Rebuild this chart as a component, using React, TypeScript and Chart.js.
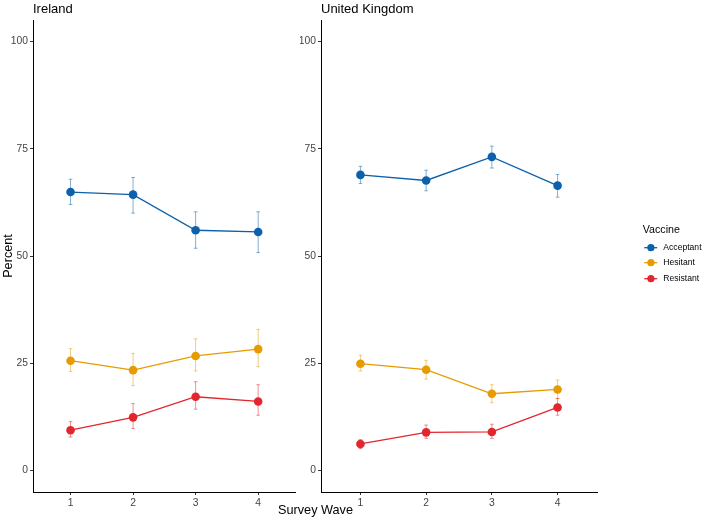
import React, { useEffect, useRef } from "react";
import { Chart, registerables } from "chart.js";

Chart.register(...registerables);

const FONT = "'Liberation Sans', Arial, Helvetica, sans-serif";

const waves = [1, 2, 3, 4];
const yTicks = [0, 25, 50, 75, 100];
const seriesNames = ["Acceptant", "Hesitant", "Resistant"];
const seriesColors = ["#0C60AC", "#E69B00", "#E2262D"];
const errColors = ["rgba(12,96,172,0.5)", "rgba(230,155,0,0.5)", "rgba(226,38,45,0.5)"];

// Ireland
const ieAcceptant = [64.9, 64.3, 56.0, 55.6];
const ieAcceptantLo = [62.0, 60.0, 51.8, 50.8];
const ieAcceptantHi = [67.9, 68.3, 60.3, 60.3];
const ieHesitant = [25.6, 23.4, 26.7, 28.3];
const ieHesitantLo = [23.1, 19.8, 23.2, 24.2];
const ieHesitantHi = [28.4, 27.3, 30.7, 32.9];
const ieResistant = [9.4, 12.4, 17.2, 16.1];
const ieResistantLo = [7.8, 9.8, 14.3, 12.9];
const ieResistantHi = [11.4, 15.6, 20.7, 20.0];

// United Kingdom
const ukAcceptant = [68.9, 67.6, 73.1, 66.4];
const ukAcceptantLo = [66.9, 65.2, 70.5, 63.7];
const ukAcceptantHi = [70.9, 70.0, 75.6, 69.0];
const ukHesitant = [24.9, 23.5, 17.9, 18.9];
const ukHesitantLo = [23.2, 21.3, 15.8, 16.8];
const ukHesitantHi = [26.9, 25.7, 20.0, 21.1];
const ukResistant = [6.2, 8.9, 9.0, 14.7];
const ukResistantLo = [5.1, 7.5, 7.5, 12.9];
const ukResistantHi = [7.2, 10.6, 10.8, 16.8];

function makeDatasets(vals: number[][], lo: number[][], hi: number[][]) {
  return vals.map((v, i) => ({
    label: seriesNames[i],
    data: waves.map((w, j) => ({ x: w, y: v[j] })),
    errLo: lo[i],
    errHi: hi[i],
    errColor: errColors[i],
    borderColor: seriesColors[i],
    backgroundColor: seriesColors[i],
    pointBackgroundColor: seriesColors[i],
    pointBorderWidth: 0,
    pointRadius: 4.3,
    borderWidth: 1.3,
    tension: 0,
  }));
}

const errorBarPlugin = {
  id: "errbars",
  beforeDatasetsDraw(chart: any) {
    const { ctx } = chart;
    const xs = chart.scales.x;
    const ys = chart.scales.y;
    ctx.save();
    chart.data.datasets.forEach((ds: any) => {
      ctx.strokeStyle = ds.errColor;
      ctx.lineWidth = 1;
      ds.data.forEach((p: any, j: number) => {
        const px = xs.getPixelForValue(p.x);
        const y1 = ys.getPixelForValue(ds.errLo[j]);
        const y2 = ys.getPixelForValue(ds.errHi[j]);
        ctx.beginPath();
        ctx.moveTo(px, y1);
        ctx.lineTo(px, y2);
        ctx.moveTo(px - 1.8, y1);
        ctx.lineTo(px + 1.8, y1);
        ctx.moveTo(px - 1.8, y2);
        ctx.lineTo(px + 1.8, y2);
        ctx.stroke();
      });
    });
    ctx.restore();
  },
};

const yTitlePlugin = {
  id: "yTitle",
  afterDraw(chart: any) {
    const opt = chart.options.plugins.yTitle;
    if (!opt || !opt.text) return;
    const { ctx, chartArea } = chart;
    ctx.save();
    ctx.translate(8.5, (chartArea.top + chartArea.bottom) / 2);
    ctx.rotate(-Math.PI / 2);
    ctx.textAlign = "center";
    ctx.textBaseline = "middle";
    ctx.fillStyle = "#000";
    ctx.font = `12.7px ${FONT}`;
    ctx.fillText(opt.text, 0, 0);
    ctx.restore();
  },
};

const legendPlugin = {
  id: "ggLegend",
  afterDraw(chart: any) {
    if (!chart.options.plugins.ggLegend || !chart.options.plugins.ggLegend.show) return;
    const { ctx, chartArea } = chart;
    const x0 = chartArea.right + 45.7;
    const cy = (chartArea.top + chartArea.bottom) / 2;
    ctx.save();
    ctx.textBaseline = "middle";
    ctx.textAlign = "left";
    ctx.fillStyle = "#000";
    ctx.font = `10.7px ${FONT}`;
    ctx.fillText("Vaccine", x0, cy - 26);
    const offs = [-8.3, 6.7, 22.7];
    chart.data.datasets.forEach((ds: any, i: number) => {
      const y = cy + offs[i];
      ctx.strokeStyle = ds.borderColor;
      ctx.lineWidth = 1.3;
      ctx.beginPath();
      ctx.moveTo(x0 + 1.5, y);
      ctx.lineTo(x0 + 14.5, y);
      ctx.stroke();
      ctx.fillStyle = ds.borderColor;
      ctx.beginPath();
      ctx.arc(x0 + 8.2, y, 3.6, 0, Math.PI * 2);
      ctx.fill();
      ctx.fillStyle = "#000";
      ctx.font = `8.6px ${FONT}`;
      ctx.fillText(ds.label, x0 + 20.6, y);
    });
    ctx.restore();
  },
};

function makeConfig(title: string, datasets: any[], yWidth: number, padRight: number, showLegend: boolean, yTitle: string): any {
  return {
    type: "line",
    data: { datasets },
    plugins: [errorBarPlugin, legendPlugin, yTitlePlugin],
    options: {
      animation: false,
      responsive: false,
      layout: { padding: { left: 0, right: padRight, top: 0, bottom: 0 } },
      plugins: {
        legend: { display: false },
        tooltip: { enabled: false },
        ggLegend: { show: showLegend },
        yTitle: { text: yTitle },
        title: {
          display: true,
          text: title,
          align: "start",
          fullSize: false,
          color: "#000",
          font: { family: FONT, size: 13, weight: "normal", lineHeight: 1.2 },
          padding: { top: 1.8, bottom: 2.6 },
        },
      },
      scales: {
        x: {
          type: "linear",
          min: 0.4,
          max: 4.6,
          afterBuildTicks: (s: any) => {
            s.ticks = waves.map((v) => ({ value: v }));
          },
          afterFit: (s: any) => {
            s.height = 29;
          },
          grid: { display: true, drawOnChartArea: false, drawTicks: true, tickLength: 3, color: "#333", lineWidth: 1 },
          border: { display: true, color: "#000", width: 1 },
          ticks: { color: "#444", font: { family: FONT, size: 10.3 }, padding: 2, maxRotation: 0 },
        },
        y: {
          type: "linear",
          min: -5,
          max: 105,
          afterBuildTicks: (s: any) => {
            s.ticks = yTicks.map((v) => ({ value: v }));
          },
          afterFit: (s: any) => {
            s.width = yWidth;
          },
          grid: { display: true, drawOnChartArea: false, drawTicks: true, tickLength: 3, color: "#333", lineWidth: 1 },
          border: { display: true, color: "#000", width: 1 },
          ticks: { color: "#444", font: { family: FONT, size: 10.3 }, padding: 2 },
        },
      },
    },
  };
}

export default function App() {
  const ref1 = useRef<HTMLCanvasElement | null>(null);
  const ref2 = useRef<HTMLCanvasElement | null>(null);

  useEffect(() => {
    const c1 = new Chart(
      ref1.current as HTMLCanvasElement,
      makeConfig(
        "Ireland",
        makeDatasets(
          [ieAcceptant, ieHesitant, ieResistant],
          [ieAcceptantLo, ieHesitantLo, ieResistantLo],
          [ieAcceptantHi, ieHesitantHi, ieResistantHi]
        ),
        33,
        2,
        false,
        "Percent"
      )
    );
    const c2 = new Chart(
      ref2.current as HTMLCanvasElement,
      makeConfig(
        "United Kingdom",
        makeDatasets(
          [ukAcceptant, ukHesitant, ukResistant],
          [ukAcceptantLo, ukHesitantLo, ukResistantLo],
          [ukAcceptantHi, ukHesitantHi, ukResistantHi]
        ),
        21,
        107,
        true,
        ""
      )
    );
    return () => {
      c1.destroy();
      c2.destroy();
    };
  }, []);

  return (
    <div style={{ position: "fixed", left: 0, top: 0, width: 704, height: 521, background: "#fff", fontFamily: FONT }}>
      <canvas ref={ref1} width={300} height={521} style={{ position: "absolute", left: 0, top: 0, width: 300, height: 521 }} />
      <canvas ref={ref2} width={404} height={521} style={{ position: "absolute", left: 300, top: 0, width: 404, height: 521 }} />
      <div
        style={{
          position: "absolute",
          left: 315.5,
          top: 510,
          transform: "translate(-50%, -50%)",
          fontSize: 12.7,
          fontWeight: 400,
          color: "#000",
          whiteSpace: "nowrap",
          lineHeight: 1,
        }}
      >
        Survey Wave
      </div>
    </div>
  );
}
